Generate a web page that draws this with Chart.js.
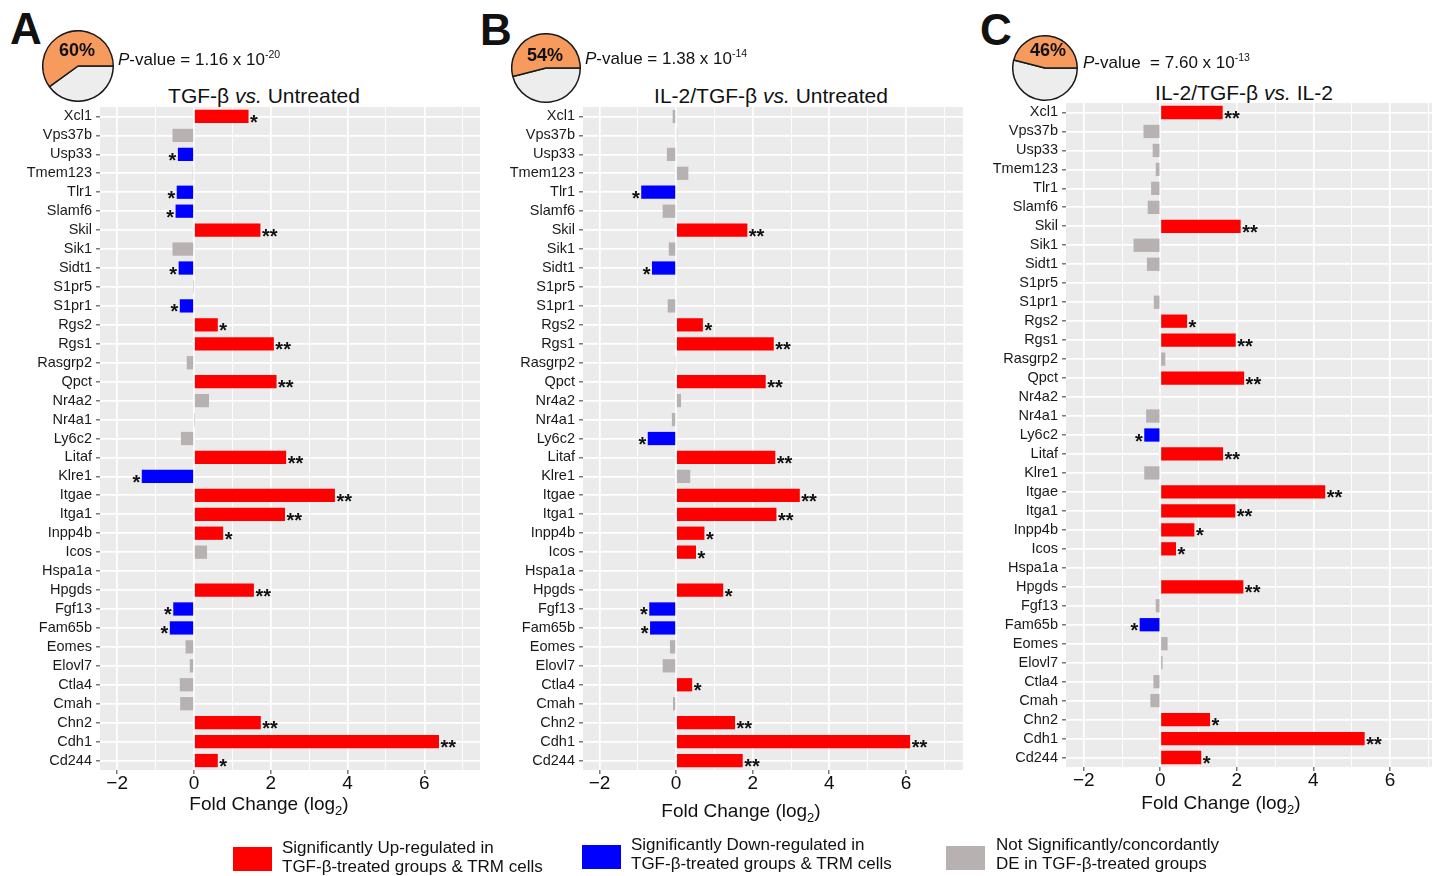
<!DOCTYPE html>
<html lang="en">
<head>
<meta charset="UTF-8">
<title>TGF-β signature genes in TRM cells</title>
<script src="https://cdn.jsdelivr.net/npm/chart.js"></script>
<style>
    body { margin: 0; background: #fff; font-family: 'Liberation Sans', Arial, sans-serif; color: #111; }
    .page { position: relative; width: 1432px; height: 876px; overflow: hidden; }
    .abs { position: absolute; line-height: 1; white-space: nowrap; }
    .c { transform: translate(-50%, -50%); }
    .v { transform: translateY(-50%); }
    .letter { font-size: 44px; font-weight: bold; }
    .pct { font-size: 18px; font-weight: bold; }
    .pval { font-size: 17px; }
    .pval sup { font-size: 10.5px; vertical-align: 7px; line-height: 0; }
    .title { font-size: 21px; }
    .xtitle { font-size: 19px; }
    .xtitle sub { font-size: 13px; vertical-align: -5px; line-height: 0; }
    .wrap { position: absolute; }
    .box { position: absolute; width: 39px; height: 24px; }
    .leg { position: absolute; font-size: 17px; line-height: 18.5px; white-space: nowrap; }
</style>
</head>
<body>
<div class="page">
    <div class="abs c letter" style="left:26px; top:29px;">A</div>
    <div class="abs c letter" style="left:496px; top:30px;">B</div>
    <div class="abs c letter" style="left:996px; top:30px;">C</div>

    <div class="wrap" style="left:42px; top:30px; width:72px; height:72px;"><canvas id="pieA"></canvas></div>
    <div class="wrap" style="left:511px; top:33px; width:70px; height:70px;"><canvas id="pieB"></canvas></div>
    <div class="wrap" style="left:1012px; top:35px; width:66px; height:66px;"><canvas id="pieC"></canvas></div>

    <div class="abs c pct" style="left:77px; top:50px;">60%</div>
    <div class="abs c pct" style="left:545px; top:55px;">54%</div>
    <div class="abs c pct" style="left:1048px; top:50px;">46%</div>

    <div class="abs v pval" style="left:118px; top:59px;"><i>P</i>-value = 1.16 x 10<sup>-20</sup></div>
    <div class="abs v pval" style="left:585px; top:58px;"><i>P</i>-value = 1.38 x 10<sup>-14</sup></div>
    <div class="abs v pval" style="left:1083px; top:62px;"><i>P</i>-value &nbsp;= 7.60 x 10<sup>-13</sup></div>

    <div class="abs c title" style="left:264px; top:95px;">TGF-β <i>vs.</i> Untreated</div>
    <div class="abs c title" style="left:771px; top:95px;">IL-2/TGF-β <i>vs.</i> Untreated</div>
    <div class="abs c title" style="left:1244px; top:92px;">IL-2/TGF-β <i>vs.</i> IL-2</div>

    <div class="wrap" style="left:10px; top:100px; width:470px; height:700px;"><canvas id="barA"></canvas></div>
    <div class="wrap" style="left:493px; top:100px; width:470px; height:700px;"><canvas id="barB"></canvas></div>
    <div class="wrap" style="left:976px; top:96px; width:456px; height:701px;"><canvas id="barC"></canvas></div>

    <div class="abs c xtitle" style="left:269px; top:803px;">Fold Change (log<sub>2</sub>)</div>
    <div class="abs c xtitle" style="left:741px; top:810px;">Fold Change (log<sub>2</sub>)</div>
    <div class="abs c xtitle" style="left:1221px; top:802px;">Fold Change (log<sub>2</sub>)</div>

    <div class="box" style="left:233px; top:847px; background:#FF0000;"></div>
    <div class="leg" style="left:282px; top:839px;">Significantly Up-regulated in<br>TGF-β-treated groups &amp; TRM cells</div>
    <div class="box" style="left:582px; top:845px; background:#0000FF;"></div>
    <div class="leg" style="left:631px; top:836px;">Significantly Down-regulated in<br>TGF-β-treated groups &amp; TRM cells</div>
    <div class="box" style="left:946px; top:846px; background:#B7B1B1;"></div>
    <div class="leg" style="left:996px; top:836px;">Not Significantly/concordantly<br>DE in TGF-β-treated groups</div>
</div>

<script>
    const genes = ['Xcl1', 'Vps37b', 'Usp33', 'Tmem123', 'Tlr1', 'Slamf6', 'Skil', 'Sik1', 'Sidt1', 'S1pr5',
        'S1pr1', 'Rgs2', 'Rgs1', 'Rasgrp2', 'Qpct', 'Nr4a2', 'Nr4a1', 'Ly6c2', 'Litaf', 'Klre1',
        'Itgae', 'Itga1', 'Inpp4b', 'Icos', 'Hspa1a', 'Hpgds', 'Fgf13', 'Fam65b', 'Eomes', 'Elovl7',
        'Ctla4', 'Cmah', 'Chn2', 'Cdh1', 'Cd244'];

    // A: TGF-b vs untreated
    const foldA = [1.42, -0.56, -0.42, -0.03, -0.45, -0.48, 1.73, -0.56, -0.40, -0.01,
        -0.37, 0.62, 2.08, -0.19, 2.15, 0.39, 0.01, -0.34, 2.40, -1.36,
        3.67, 2.37, 0.76, 0.34, 0, 1.56, -0.54, -0.63, -0.22, -0.11,
        -0.37, -0.36, 1.74, 6.38, 0.62];
    const starsA = ['*', '', '*', '', '*', '*', '**', '', '*', '',
        '*', '*', '**', '', '**', '', '', '', '**', '*',
        '**', '**', '*', '', '', '**', '*', '*', '', '',
        '', '', '**', '**', '*'];

    // B: IL-2/TGF-b vs untreated
    const foldB = [-0.09, 0.03, -0.24, 0.32, -0.91, -0.35, 1.86, -0.19, -0.63, 0,
        -0.22, 0.70, 2.55, -0.03, 2.34, 0.13, -0.11, -0.74, 2.59, 0.37,
        3.23, 2.62, 0.74, 0.52, 0, 1.23, -0.70, -0.68, -0.16, -0.35,
        0.42, -0.08, 1.54, 6.11, 1.74];
    const starsB = ['', '', '', '', '*', '', '**', '', '*', '',
        '', '*', '**', '', '**', '', '', '*', '**', '',
        '**', '**', '*', '*', '', '*', '*', '*', '', '',
        '*', '', '**', '**', '**'];

    // C: IL-2/TGF-b vs IL-2
    const foldC = [1.63, -0.44, -0.20, -0.12, -0.24, -0.33, 2.10, -0.70, -0.35, 0,
        -0.17, 0.70, 1.97, 0.13, 2.19, -0.02, -0.37, -0.42, 1.64, -0.42,
        4.31, 1.96, 0.89, 0.41, 0, 2.17, -0.12, -0.54, 0.19, 0.06,
        -0.18, -0.26, 1.30, 5.34, 1.07];
    const starsC = ['**', '', '', '', '', '', '**', '', '', '',
        '', '*', '**', '', '**', '', '', '*', '**', '',
        '**', '**', '*', '*', '', '**', '', '*', '', '',
        '', '', '*', '**', '*'];

    const overlapPct = [60, 54, 46];
    const xTicks = [-2, -1, 0, 1, 2, 3, 4, 5, 6, 7];

    const UP = '#FF0000';
    const DOWN = '#0000FF';
    const NS = '#B7B1B1';
    const FONT = "'Liberation Sans', Arial, sans-serif";

    const panelBg = {
        id: 'panelBg',
        beforeDraw(chart) {
            const { ctx, chartArea: a } = chart;
            ctx.save();
            ctx.fillStyle = '#EBEBEB';
            ctx.fillRect(a.left, a.top, a.width, a.height);
            ctx.restore();
        }
    };

    // significance stars next to the bar ends
    const starLabels = {
        id: 'starLabels',
        afterDatasetsDraw(chart, args, opts) {
            const ctx = chart.ctx;
            const vals = chart.data.datasets[0].data;
            ctx.save();
            ctx.font = 'bold 20px ' + FONT;
            ctx.fillStyle = '#111';
            chart.getDatasetMeta(0).data.forEach((bar, i) => {
                const s = opts.stars[i];
                if (!s) return;
                const v = vals[i];
                const x = chart.scales.x.getPixelForValue(v);
                ctx.textAlign = v >= 0 ? 'left' : 'right';
                ctx.fillText(s, x + (v >= 0 ? 1.5 : -1.5), bar.y + 12.5);
            });
            ctx.restore();
        }
    };

    const isMajor = (c) => c.tick && c.tick.value % 2 === 0;

    function makeBars(id, values, stars, xMin, xMax) {
        new Chart(document.getElementById(id), {
            type: 'bar',
            data: {
                labels: genes,
                datasets: [{
                    data: values,
                    backgroundColor: values.map((v, i) => stars[i] ? (v > 0 ? UP : DOWN) : NS),
                    borderWidth: 0,
                    barPercentage: 0.7,
                    categoryPercentage: 1
                }]
            },
            options: {
                indexAxis: 'y',
                responsive: true,
                maintainAspectRatio: false,
                animation: false,
                events: [],
                layout: { padding: { top: 7 } },
                plugins: {
                    legend: { display: false },
                    tooltip: { enabled: false },
                    starLabels: { stars: stars }
                },
                scales: {
                    x: {
                        min: xMin,
                        max: xMax,
                        afterBuildTicks: (axis) => { axis.ticks = xTicks.map(v => ({ value: v })); },
                        afterFit: (s) => { s.height = 30; s.paddingLeft = 0; s.paddingRight = 0; },
                        border: { display: false },
                        grid: {
                            color: '#fff',
                            lineWidth: (c) => isMajor(c) ? 1.7 : 0.9,
                            drawTicks: true,
                            tickLength: 4,
                            tickWidth: 1,
                            tickColor: (c) => isMajor(c) ? '#333' : 'rgba(0,0,0,0)'
                        },
                        ticks: {
                            autoSkip: false,
                            maxRotation: 0,
                            padding: 0,
                            color: '#111',
                            font: { family: FONT, size: 19, lineHeight: 1 },
                            callback: (v) => v % 2 === 0 ? String(v).replace('-', '\u2212') : ''
                        }
                    },
                    y: {
                        afterFit: (s) => { s.width = 90; s.paddingTop = 0; s.paddingBottom = 0; },
                        border: { display: false },
                        grid: {
                            color: '#fff',
                            lineWidth: 1.7,
                            offset: false,
                            drawTicks: true,
                            tickLength: 4,
                            tickWidth: 1,
                            tickColor: '#333'
                        },
                        ticks: {
                            autoSkip: false,
                            padding: 4,
                            color: '#1a1a1a',
                            font: { family: FONT, size: 14.5 }
                        }
                    }
                }
            },
            plugins: [panelBg, starLabels]
        });
    }

    function makePie(id, pct) {
        new Chart(document.getElementById(id), {
            type: 'pie',
            data: {
                labels: ['Other', 'Shared'],
                datasets: [{
                    data: [100 - pct, pct],
                    backgroundColor: ['#EDEDED', '#F79A5E'],
                    borderColor: '#1a1a1a',
                    borderWidth: 1.5
                }]
            },
            options: {
                responsive: true,
                maintainAspectRatio: false,
                animation: false,
                events: [],
                rotation: 90,
                plugins: { legend: { display: false }, tooltip: { enabled: false } }
            }
        });
    }

    makeBars('barA', foldA, starsA, -2.448, 7.448);
    makeBars('barB', foldB, starsB, -2.43, 7.49);
    makeBars('barC', foldC, starsC, -2.465, 7.10);

    makePie('pieA', overlapPct[0]);
    makePie('pieB', overlapPct[1]);
    makePie('pieC', overlapPct[2]);
</script>
</body>
</html>
